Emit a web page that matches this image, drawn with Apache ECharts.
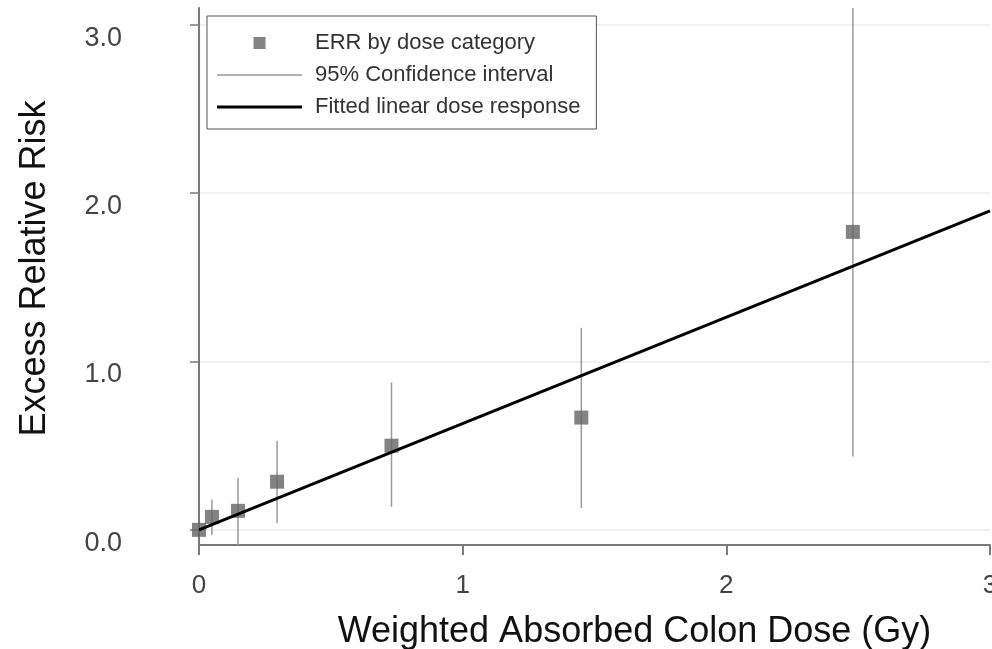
<!DOCTYPE html>
<html>
<head>
<meta charset="utf-8">
<script src="https://cdn.jsdelivr.net/npm/echarts@6/dist/echarts.min.js"></script>
<style>
html,body{margin:0;padding:0;background:#fff;}
#main{width:992px;height:649px;}
</style>
</head>
<body>
<div id="main"></div>
<script>
// dose categories (Gy) and ERR
var doses = [0, 0.049, 0.148, 0.296, 0.73, 1.45, 2.48];
var err = [0, 0.077, 0.113, 0.286, 0.50, 0.667, 1.77];
// 95% CI bounds
var ciLow = [-0.01, -0.03, -0.09, 0.04, 0.137, 0.13, 0.435];
var ciHigh = [0.01, 0.18, 0.31, 0.53, 0.876, 1.20, 3.1];
// fitted linear dose response
var fitDose = [0, 3];
var fitErr = [0, 1.895];
var yTicks = [0, 1, 2, 3];
var xTicks = [0, 1, 2, 3];

var font = "'Liberation Sans', Arial, sans-serif";

var pts = [], bars = [], fit = [];
for (var i = 0; i < doses.length; i++) {
    pts.push([doses[i], err[i]]);
    bars.push([doses[i], ciLow[i], ciHigh[i]]);
}
for (var j = 0; j < fitDose.length; j++) {
    fit.push([fitDose[j], fitErr[j]]);
}

var myChart = echarts.init(document.getElementById('main'));
var option = {
    animation: false,
    backgroundColor: '#fff',
    grid: {
        left: 199, right: 2, top: 8, bottom: 104,
        containLabel: false,
        outerBoundsMode: 'none'
    },
    legend: {
        orient: 'vertical',
        left: 207,
        top: 16,
        padding: [16, 16, 11, 10],
        itemWidth: 85,
        itemHeight: 12,
        itemGap: 10,
        borderColor: '#555',
        borderWidth: 1,
        backgroundColor: '#fff',
        selectedMode: false,
        textStyle: {fontFamily: font, fontSize: 22, color: '#333', padding: [0, 0, 0, 8]},
        data: [
            {name: 'ERR by dose category', icon: 'path://M0,0h10v10h-10z'},
            {name: '95% Confidence interval', icon: 'path://M0,0h85v1.5h-85z'},
            {name: 'Fitted linear dose response', icon: 'path://M0,0h85v3h-85z'}
        ]
    },
    xAxis: {
        type: 'value',
        min: 0, max: 3, interval: 1,
        name: 'Weighted Absorbed Colon Dose (Gy)',
        nameLocation: 'middle',
        nameGap: 69,
        nameTextStyle: {fontFamily: font, fontSize: 36, color: '#111', padding: [0, 0, 0, 80]},
        axisLine: {onZero: false, lineStyle: {color: '#7a7a7a', width: 2}},
        axisTick: {show: true, length: 10, lineStyle: {color: '#7a7a7a', width: 2}, customValues: xTicks},
        axisLabel: {fontFamily: font, fontSize: 26, color: '#444', margin: 28, customValues: xTicks},
        splitLine: {show: false}
    },
    yAxis: {
        type: 'value',
        min: -0.09, max: 3.1,
        name: 'Excess Relative Risk',
        nameLocation: 'middle',
        nameGap: 146,
        nameTextStyle: {fontFamily: font, fontSize: 36, color: '#111', padding: [0, 0, 0, 16]},
        axisLine: {show: true, onZero: false, lineStyle: {color: '#7a7a7a', width: 2}},
        axisTick: {show: true, length: 9, lineStyle: {color: '#7a7a7a', width: 1.5}, customValues: yTicks},
        axisLabel: {
            fontFamily: font, fontSize: 27, color: '#444', margin: 77,
            verticalAlign: 'top', customValues: yTicks,
            formatter: function(v){ return v.toFixed(1); }
        },
        splitLine: {show: true, lineStyle: {color: '#ececec', width: 1.5}}
    },
    series: [
        {
            name: '95% Confidence interval',
            type: 'custom',
            clip: true,
            z: 2,
            itemStyle: {color: '#9a9a9a'},
            encode: {x: 0, y: [1, 2]},
            data: bars,
            renderItem: function(params, api) {
                var a = api.coord([api.value(0), api.value(1)]);
                var b = api.coord([api.value(0), api.value(2)]);
                return {
                    type: 'line',
                    shape: {x1: a[0], y1: a[1], x2: b[0], y2: b[1]},
                    style: {stroke: '#9a9a9a', lineWidth: 1.5}
                };
            }
        },
        {
            name: 'ERR by dose category',
            type: 'scatter',
            symbol: 'rect',
            symbolSize: 14,
            z: 3,
            itemStyle: {color: '#646464'},
            data: pts
        },
        {
            name: 'Fitted linear dose response',
            type: 'line',
            symbol: 'none',
            z: 4,
            clip: true,
            lineStyle: {color: '#000', width: 3},
            itemStyle: {color: '#000'},
            data: fit
        }
    ]
};
myChart.setOption(option);
window.addEventListener("resize", function(){
    myChart.resize();
});
</script>
</body>
</html>
